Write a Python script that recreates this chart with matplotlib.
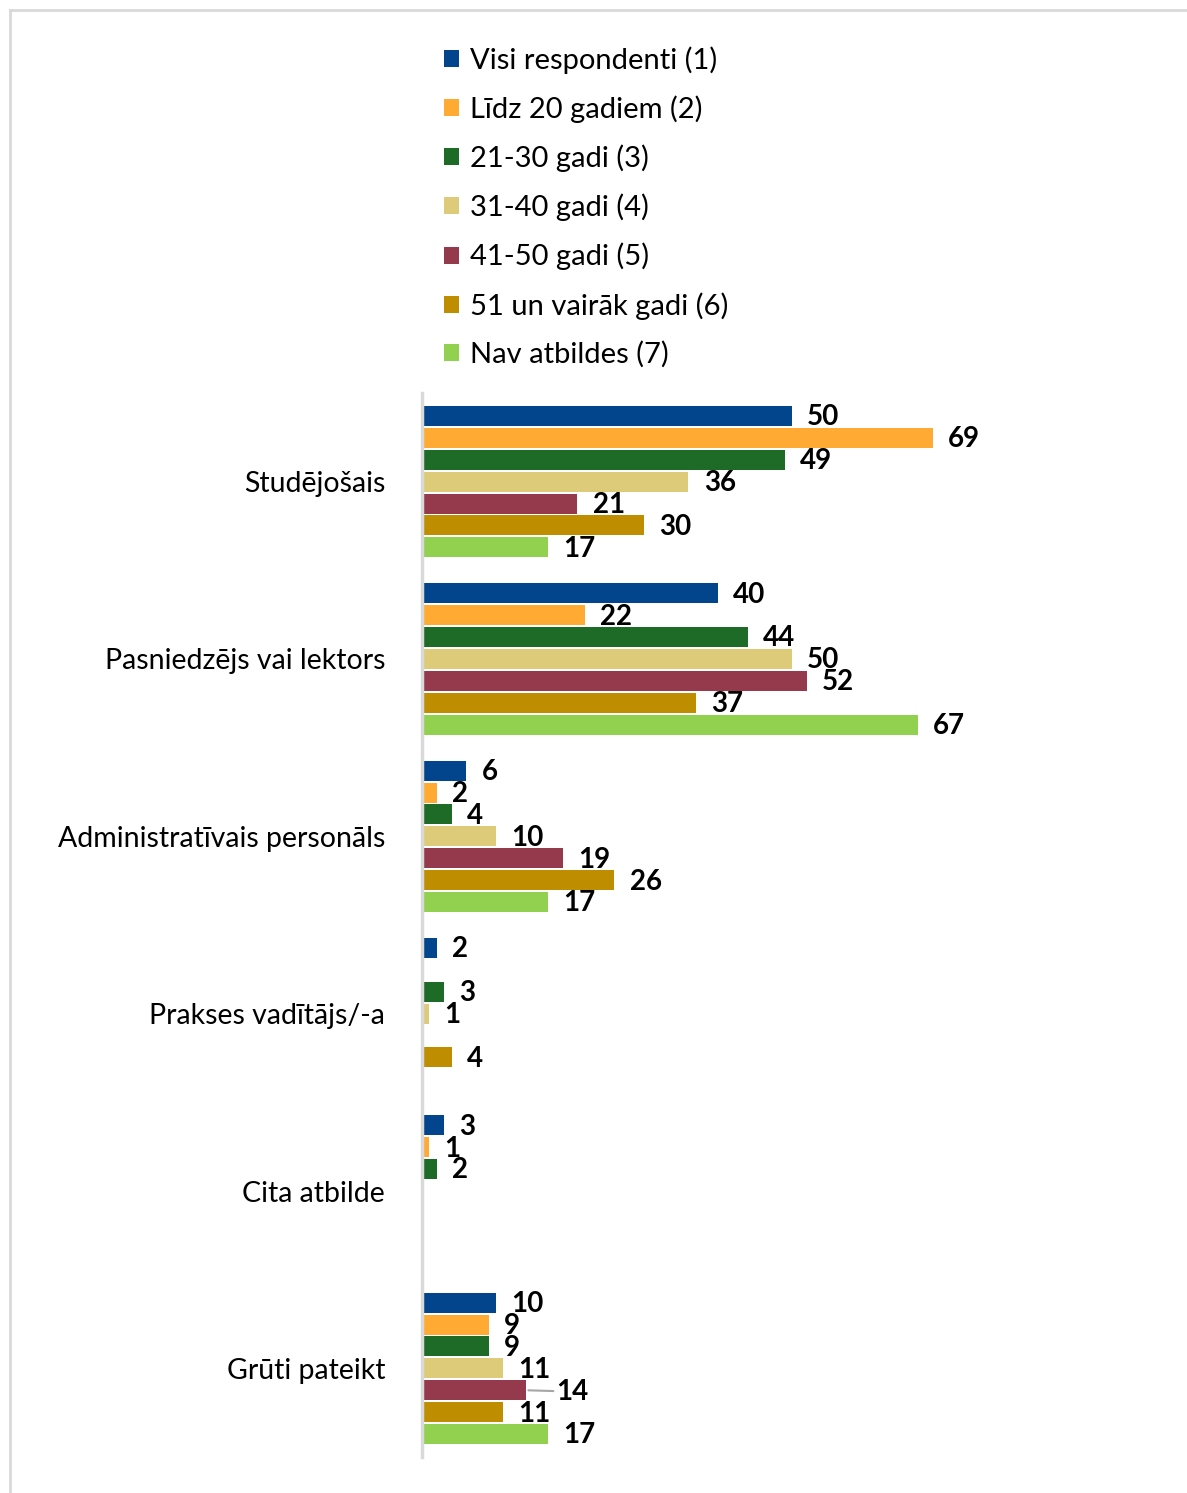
import matplotlib
matplotlib.use("Agg")
import matplotlib.pyplot as plt
from matplotlib.lines import Line2D
import numpy as np

categories = ["Studējošais", "Pasniedzējs vai lektors", "Administratīvais personāls",
              "Prakses vadītājs/-a", "Cita atbilde", "Grūti pateikt"]
series_names = ["Visi respondenti (1)", "Līdz 20 gadiem (2)", "21-30 gadi (3)",
                "31-40 gadi (4)", "41-50 gadi (5)", "51 un vairāk gadi (6)", "Nav atbildes (7)"]
visi = [50, 40, 6, 2, 3, 10]
lidz20 = [69, 22, 2, 0, 1, 9]
g21_30 = [49, 44, 4, 3, 2, 9]
g31_40 = [36, 50, 10, 1, 0, 11]
g41_50 = [21, 52, 19, 0, 0, 14]
g51 = [30, 37, 26, 4, 0, 11]
nav = [17, 67, 17, 0, 0, 17]
series = [visi, lidz20, g21_30, g31_40, g41_50, g51, nav]
colors = ["#03458C", "#FFAA33", "#1D6B26", "#DDCB7A", "#953A4D", "#BE8E00", "#92D050"]

plt.rcParams['font.family'] = ['Lato', 'DejaVu Sans']

W, H = 1187, 1493
fig = plt.figure(figsize=(W / 100, H / 100), dpi=100)

ax_left, ax_right, ax_top, ax_bot = 422, 1160, 393, 1457
ax = fig.add_axes([ax_left / W, 1 - ax_bot / H, (ax_right - ax_left) / W, (ax_bot - ax_top) / H])
px_per_unit = 7.4
ax.set_xlim(0, (ax_right - ax_left) / px_per_unit)
ax.set_ylim(len(categories) - 0.5, -0.5)

pitch = 0.1235
bh = 0.113
n = len(series)
y0 = np.arange(len(categories))
for i, (vals, c) in enumerate(zip(series, colors)):
    ys = y0 + (i - (n - 1) / 2) * pitch
    ax.barh(ys, vals, height=bh, color=c, label=series_names[i])
    for y, v, cat in zip(ys, vals, categories):
        if v == 0:
            continue
        if cat == "Grūti pateikt" and i == 4:
            ax.annotate(str(v), xy=(v, y), xytext=(22, -1), textcoords="offset points",
                        ha="left", va="center", fontsize=20, fontweight="bold",
                        arrowprops=dict(arrowstyle="-", color="#A6A6A6", lw=1.5,
                                        shrinkA=0, shrinkB=2))
        else:
            ax.annotate(str(v), xy=(v, y), xytext=(11, -1), textcoords="offset points",
                        ha="left", va="center", fontsize=20, fontweight="bold")

ax.set_yticks(y0)
ax.set_yticklabels(categories, fontsize=20.5)
ax.tick_params(axis="y", length=0, pad=26.5)
ax.set_xticks([])
for s in ["top", "right", "bottom"]:
    ax.spines[s].set_visible(False)
ax.spines["left"].set_color("#D9D9D9")
ax.spines["left"].set_linewidth(2.5)

handles, labels = ax.get_legend_handles_labels()
leg = fig.legend(handles, labels, loc="upper left", bbox_to_anchor=(444 / W, 1 - 46 / H),
                 frameon=False, fontsize=21, handlelength=0.52, handleheight=0.52,
                 handletextpad=0.36, labelspacing=0.74, borderaxespad=0, borderpad=0)

# outer frame (left and top)
fig.add_artist(Line2D([10 / W, 10 / W], [0, 1 - 10 / H], color="#D9D9D9", lw=2,
                      transform=fig.transFigure))
fig.add_artist(Line2D([10 / W, 1], [1 - 10 / H, 1 - 10 / H], color="#D9D9D9", lw=2,
                      transform=fig.transFigure))

fig.savefig("out.png", dpi=100)
